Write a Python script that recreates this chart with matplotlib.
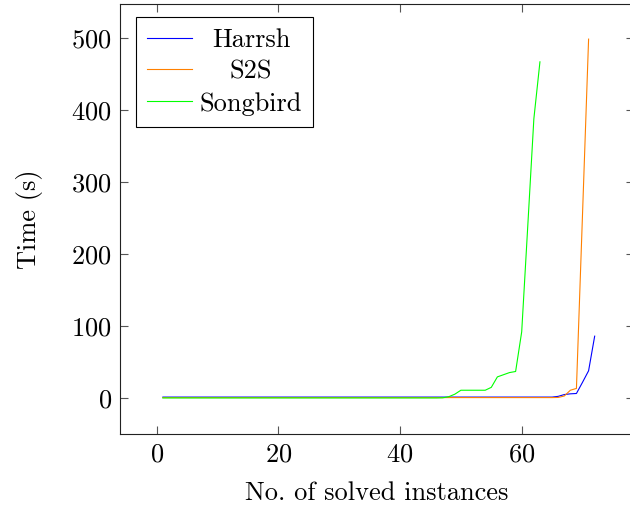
import numpy as np
import matplotlib
matplotlib.use("Agg")
import matplotlib.pyplot as plt

# ---- data ----
harrsh_x = list(range(1, 73))
harrsh_y = [1.5] * 65 + [2.5, 5.0, 6.0, 6.5, 22.0, 38.0, 86.0]

s2s_x = list(range(1, 72))
s2s_y = [0.8] * 65 + [1.0, 3.0, 11.0, 13.5, 255.0, 498.0]

songbird_x = list(range(1, 64))
songbird_y = ([0.3] * 46 + [0.5, 2.0, 5.5, 11.0, 11.0, 11.0, 11.0, 11.0,
                            15.0, 29.5, 32.5, 35.5, 37.0, 92.0, 239.0, 387.5, 466.5])

series_names = ["Harrsh", "S2S", "Songbird"]
series_colors = ["#0000ff", "#ff8000", "#00ff00"]
x_ticks = [0, 20, 40, 60]
y_ticks = [0, 100, 200, 300, 400, 500]
x_label = "No. of solved instances"
y_label = "Time (s)"

# ---- style ----
plt.rcParams["font.family"] = ["cmr10", "DejaVu Serif"]
plt.rcParams["mathtext.fontset"] = "cm"
plt.rcParams["axes.formatter.use_mathtext"] = True
FS = 19
LW = 0.8

fig = plt.figure(figsize=(6.3, 5.08), dpi=100)
W, H = 630, 508
ax_left, ax_right, ax_top, ax_bottom = 120, 633.6, 4, 434
ax = fig.add_axes([ax_left / W, 1 - ax_bottom / H, (ax_right - ax_left) / W, (ax_bottom - ax_top) / H])

for xs, ys, name, col in zip([harrsh_x, s2s_x, songbird_x],
                             [harrsh_y, s2s_y, songbird_y],
                             series_names, series_colors):
    ax.plot(xs, ys, color=col, lw=LW, label=name)

ax.set_xlim(-6.05, 78.4)
ax.set_ylim(-49.7, 546.7)
ax.set_xticks(x_ticks)
ax.set_yticks(y_ticks)
ax.tick_params(direction="in", length=5.5, width=LW, color="#555555",
               top=True, right=True, labelsize=FS, pad=6)
for sp in ax.spines.values():
    sp.set_linewidth(LW)
    sp.set_color("#222222")

ax.set_xlabel(x_label, fontsize=FS, labelpad=11)
ax.set_ylabel(y_label, fontsize=FS, labelpad=20)

leg = ax.legend(loc="upper left", bbox_to_anchor=((136 - ax_left) / (ax_right - ax_left), (434 - 17) / (ax_bottom - ax_top)),
                borderaxespad=0, fontsize=FS, frameon=True, fancybox=False, framealpha=1,
                edgecolor="black", handlelength=1.7, handletextpad=0.3, borderpad=0.42,
                labelspacing=0.31)
leg.get_frame().set_linewidth(LW)

# center legend texts within column (pgfplots style)
fig.canvas.draw()
renderer = fig.canvas.get_renderer()
texts = leg.get_texts()
widths = [t.get_window_extent(renderer).width for t in texts]
mw = max(widths)
for t, w in zip(texts, widths):
    t.set_x((mw - w) / 2)

fig.savefig("out.png", dpi=100)
